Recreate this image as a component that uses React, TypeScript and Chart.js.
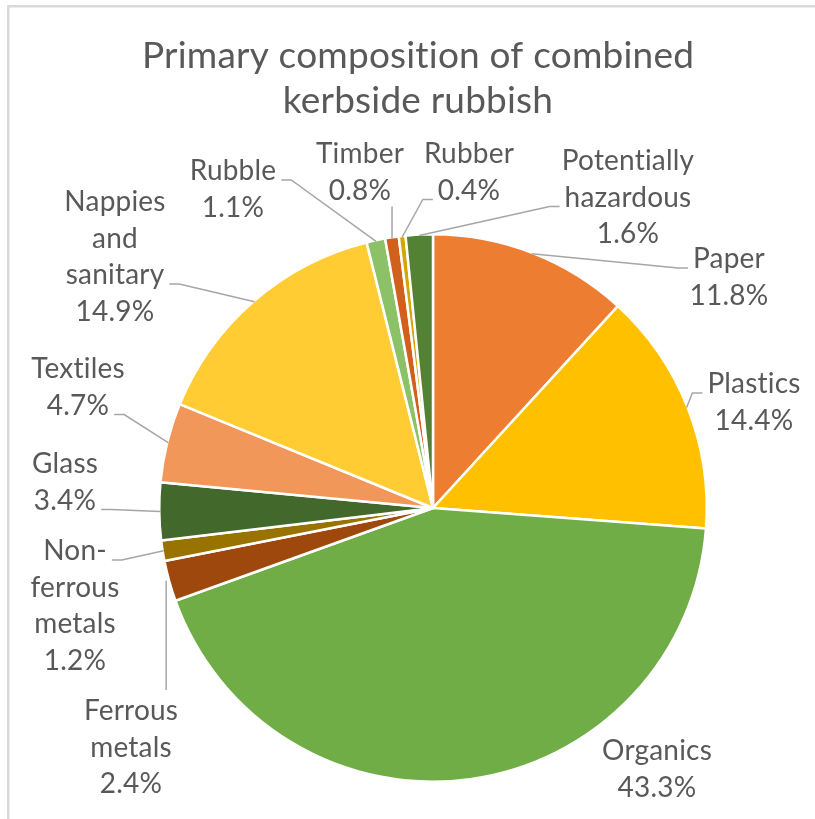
import { useEffect, useRef } from "react";
import { Chart, registerables } from "chart.js";

Chart.register(...registerables);

// ---------- data ----------
const titleLines = ["Primary composition of combined", "kerbside rubbish"];
const categories = [
  "Paper",
  "Plastics",
  "Organics",
  "Ferrous metals",
  "Non-ferrous metals",
  "Glass",
  "Textiles",
  "Nappies and sanitary",
  "Rubble",
  "Timber",
  "Rubber",
  "Potentially hazardous",
];
const shares = [11.8, 14.4, 43.3, 2.4, 1.2, 3.4, 4.7, 14.9, 1.1, 0.8, 0.4, 1.6];
const labelLines = [
  ["Paper"],
  ["Plastics"],
  ["Organics"],
  ["Ferrous", "metals"],
  ["Non-", "ferrous", "metals"],
  ["Glass"],
  ["Textiles"],
  ["Nappies", "and", "sanitary"],
  ["Rubble"],
  ["Timber"],
  ["Rubber"],
  ["Potentially", "hazardous"],
];
const sliceColors = [
  "#ED7D31",
  "#FFC000",
  "#70AD47",
  "#9E480E",
  "#997300",
  "#43682B",
  "#F1975A",
  "#FFCD33",
  "#8CC168",
  "#D0601A",
  "#D6A600",
  "#548235",
];

// ---------- layout / style ----------
const FONT = "Lato, 'Open Sans', sans-serif";
const TEXT = "#595959";
const LEADER = "#A6A6A6";
const LABEL_SIZE = 28;
const LINE_H = 36.5;
const CAP = 20;
const TITLE_SIZE = 37;

type Place = { dx: number; dy: number; leader: "none" | "left" | "right" | "up" | "down"; line?: number };
// label block: centre x and first baseline, relative to the pie centre
const labelPlacement: Place[] = [
  { dx: 296, dy: -240, leader: "left", line: 0 },
  { dx: 321, dy: -115, leader: "left", line: 0 },
  { dx: 224, dy: 252, leader: "none" },
  { dx: -302, dy: 212, leader: "down" },
  { dx: -358, dy: 52, leader: "right", line: 0 },
  { dx: -368, dy: -35, leader: "right", line: 1 },
  { dx: -355, dy: -130, leader: "right", line: 1 },
  { dx: -318, dy: -297, leader: "right", line: 2 },
  { dx: -200, dy: -328, leader: "right", line: 0 },
  { dx: -73, dy: -345, leader: "up" },
  { dx: 36, dy: -345, leader: "left", line: 1 },
  { dx: 195, dy: -338, leader: "left", line: 1 },
];

const fmt = (v: number) => {
  const total = shares.reduce((a, b) => a + b, 0);
  return ((v / total) * 100).toFixed(1) + "%";
};

const decorPlugin = {
  id: "decor",
  beforeDraw(chart: any) {
    const ctx = chart.ctx;
    ctx.save();
    ctx.fillStyle = "#FFFFFF";
    ctx.fillRect(0, 0, chart.width, chart.height);
    ctx.fillStyle = "#D9D9D9";
    ctx.fillRect(7, 5, chart.width - 7, 2.5);
    ctx.fillRect(7, 5, 2.5, chart.height - 5);
    ctx.restore();
  },
  afterDatasetsDraw(chart: any) {
    const ctx = chart.ctx;
    const meta = chart.getDatasetMeta(0);
    ctx.save();
    try {
      (ctx as any).letterSpacing = "0.2px";
    } catch (e) {}
    // title
    ctx.fillStyle = TEXT;
    ctx.textAlign = "center";
    ctx.textBaseline = "alphabetic";
    ctx.font = `${TITLE_SIZE}px ${FONT}`;
    ctx.fillText(titleLines[0], 418, 68);
    ctx.fillText(titleLines[1], 418, 113);

    ctx.font = `${LABEL_SIZE}px ${FONT}`;
    meta.data.forEach((arc: any, i: number) => {
      const { x, y, startAngle, endAngle, outerRadius } = arc.getProps(
        ["x", "y", "startAngle", "endAngle", "outerRadius"],
        true
      );
      const mid = (startAngle + endAngle) / 2;
      const r = outerRadius - 1;
      const ex = x + Math.cos(mid) * r;
      const ey = y + Math.sin(mid) * r;
      const p = labelPlacement[i];
      const cx = x + p.dx;
      const by = y + p.dy;
      const lines = [...labelLines[i], fmt(shares[i])];

      ctx.strokeStyle = LEADER;
      ctx.lineWidth = 1.5;
      ctx.beginPath();
      if (p.leader === "left" || p.leader === "right") {
        const k = p.line ?? 0;
        const w = ctx.measureText(lines[k]).width;
        const ly = by + k * LINE_H;
        const endX = p.leader === "left" ? cx - w / 2 - 5 : cx + w / 2 + 5;
        const elbowX = p.leader === "left" ? endX - 10 : endX + 10;
        ctx.moveTo(ex, ey);
        ctx.lineTo(elbowX, ly);
        ctx.lineTo(endX, ly);
        ctx.stroke();
      } else if (p.leader === "up") {
        const bottom = by + (lines.length - 1) * LINE_H + 7;
        ctx.moveTo(ex, ey);
        ctx.lineTo(ex, bottom);
        ctx.stroke();
      } else if (p.leader === "down") {
        const top = by - CAP - 10;
        ctx.moveTo(ex - 4, ey);
        ctx.lineTo(ex - 4, top);
        ctx.stroke();
      }

      ctx.fillStyle = TEXT;
      lines.forEach((t, k) => ctx.fillText(t, cx, by + k * LINE_H));
    });
    ctx.restore();
  },
};

export default function App() {
  const ref = useRef<HTMLCanvasElement | null>(null);
  useEffect(() => {
    if (!ref.current) return;
    const chart = new Chart(ref.current, {
      type: "pie",
      data: {
        labels: categories,
        datasets: [
          {
            data: shares,
            backgroundColor: sliceColors,
            borderColor: "#FFFFFF",
            borderWidth: 2.5,
          },
        ],
      },
      options: {
        animation: false,
        responsive: true,
        maintainAspectRatio: false,
        layout: { padding: { left: 158, top: 233, right: 107, bottom: 36 } },
        plugins: {
          legend: { display: false },
          title: { display: false },
          tooltip: { enabled: false },
        },
      },
      plugins: [decorPlugin],
    });
    return () => chart.destroy();
  }, []);
  return (
    <div style={{ position: "fixed", left: 0, top: 0, width: 815, height: 819, background: "#fff" }}>
      <canvas ref={ref} />
    </div>
  );
}
